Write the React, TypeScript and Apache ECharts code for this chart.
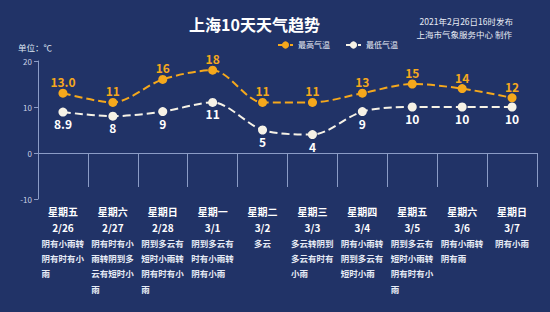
import React, { useEffect, useRef } from "react";
import * as echarts from "echarts";

const weekdays = ["星期五", "星期六", "星期日", "星期一", "星期二", "星期三", "星期四", "星期五", "星期六", "星期日"];
const dates = ["2/26", "2/27", "2/28", "3/1", "3/2", "3/3", "3/4", "3/5", "3/6", "3/7"];
const descriptions = [
  "阴有小雨转阴有时有小雨",
  "阴有时有小雨转阴到多云有短时小雨",
  "阴到多云有短时小雨转阴有时有小雨",
  "阴到多云有时有小雨转阴有小雨",
  "多云",
  "多云转阴到多云有时有小雨",
  "阴有小雨转阴到多云有短时小雨",
  "阴到多云有短时小雨转阴有时有小雨",
  "阴有小雨转阴有雨",
  "阴有小雨",
];
const highTemps = [13.0, 11, 16, 18, 11, 11, 13, 15, 14, 12];
const highLabels = ["13.0", "11", "16", "18", "11", "11", "13", "15", "14", "12"];
const lowTemps = [8.9, 8, 9, 11, 5, 4, 9, 10, 10, 10];
const lowLabels = ["8.9", "8", "9", "11", "5", "4", "9", "10", "10", "10"];

const FONT = '"Noto Sans CJK SC", "Noto Sans", sans-serif';

function chunk(s: string, n: number): string[] {
  const out: string[] = [];
  for (let i = 0; i < s.length; i += n) out.push(s.slice(i, i + n));
  return out;
}

export default function App() {
  const ref = useRef<HTMLDivElement>(null);
  useEffect(() => {
    if (!ref.current) return;
    const chart = echarts.init(ref.current, null, { renderer: "svg" });
    const axisColor = "#8b9cc6";
    chart.setOption({
      animation: false,
      backgroundColor: "#213367",
      textStyle: { fontFamily: FONT },
      title: {
        text: "上海10天天气趋势",
        left: 184,
        top: 11,
        textStyle: { color: "#ffffff", fontSize: 16, fontWeight: "bold", fontFamily: FONT },
      },
      graphic: [
        {
          type: "text",
          right: 37,
          top: 17,
          style: { text: "2021年2月26日16时发布", fill: "#e8ecf5", font: `8.5px ${FONT}` },
        },
        {
          type: "text",
          right: 38,
          top: 30,
          style: { text: "上海市气象服务中心 制作", fill: "#e8ecf5", font: `8.5px ${FONT}` },
        },
        {
          type: "text",
          left: 18,
          top: 43,
          style: { text: "单位：℃", fill: "#dfe5f2", font: `8.5px ${FONT}` },
        },
      ],
      legend: {
        left: 272,
        top: 36,
        itemWidth: 15,
        itemHeight: 9,
        itemGap: 15,
        textStyle: { color: "#e8ecf5", fontSize: 8, fontFamily: FONT },
        data: ["最高气温", "最低气温"],
      },
      grid: { left: 38, right: 13, top: 61, bottom: 113 },
      xAxis: {
        type: "category",
        data: dates,
        boundaryGap: true,
        axisLine: { show: true, lineStyle: { color: axisColor, width: 1 } },
        axisTick: { show: true, length: 34, lineStyle: { color: axisColor, width: 1 } },
        axisLabel: {
          interval: 0,
          margin: 4,
          formatter: (_v: string, i: number) => {
            const desc = descriptions[i];
            const lines = chunk(desc, 5);
            const descPart =
              lines.length > 1
                ? lines.map((l) => `{d|${l}}`).join("\n")
                : `{dc|${desc}}`;
            return `{w|${weekdays[i]}}\n{w|${dates[i]}}\n${descPart}`;
          },
          rich: {
            w: { color: "#ffffff", fontSize: 10, fontWeight: "bold", lineHeight: 16, align: "center", fontFamily: FONT },
            d: { color: "#e6ebf5", fontSize: 8.5, fontWeight: "bold", lineHeight: 15.3, width: 43, align: "left", fontFamily: FONT },
            dc: { color: "#e6ebf5", fontSize: 8.5, fontWeight: "bold", lineHeight: 15.3, align: "center", fontFamily: FONT },
          },
        },
      },
      yAxis: {
        type: "value",
        min: -10,
        max: 20,
        interval: 10,
        axisLine: { show: true, lineStyle: { color: axisColor } },
        axisTick: { show: true, length: 4, lineStyle: { color: axisColor } },
        splitLine: { show: false },
        axisLabel: { color: "#c9d1e4", fontSize: 8, margin: 6, fontFamily: FONT },
      },
      series: [
        {
          name: "最高气温",
          type: "line",
          data: highTemps,
          smooth: 0.3,
          symbol: "circle",
          symbolSize: 9,
          itemStyle: { color: "#f5a81c" },
          lineStyle: { color: "#f5a81c", width: 2, type: [8, 4] },
          label: {
            show: true,
            position: "top",
            distance: 1,
            color: "#f5a81c",
            fontSize: 12,
            fontWeight: "bold",
            fontFamily: FONT,
            formatter: (p: any) => highLabels[p.dataIndex],
          },
        },
        {
          name: "最低气温",
          type: "line",
          data: lowTemps,
          smooth: 0.3,
          symbol: "circle",
          symbolSize: 9,
          itemStyle: { color: "#f6f2e6" },
          lineStyle: { color: "#f6f2e6", width: 2, type: [8, 4] },
          label: {
            show: true,
            position: "bottom",
            distance: 1,
            color: "#ffffff",
            fontSize: 12,
            fontWeight: "bold",
            fontFamily: FONT,
            formatter: (p: any) => lowLabels[p.dataIndex],
          },
        },
      ],
    });
    return () => chart.dispose();
  }, []);
  return <div ref={ref} style={{ width: 550, height: 312, position: "fixed", left: 0, top: 0 }} />;
}
